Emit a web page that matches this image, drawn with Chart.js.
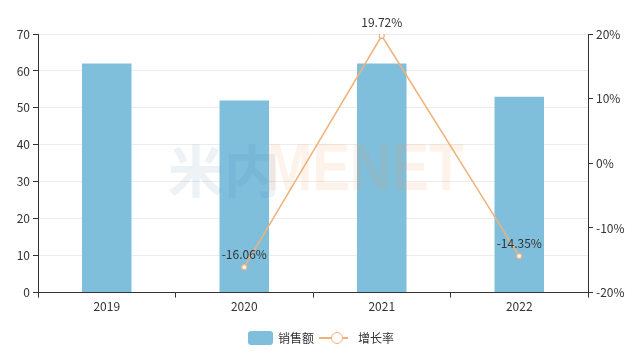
<!DOCTYPE html>
<html><head><meta charset="utf-8">
<script src="https://cdn.jsdelivr.net/npm/chart.js@4.4.0/dist/chart.umd.min.js"></script>
<style>
html,body{margin:0;padding:0;background:#fff;}
#wrap{position:relative;width:643px;height:359px;}
#legend{position:absolute;left:0;top:330px;width:643px;height:18px;font-family:"Noto Sans CJK SC","Noto Sans",sans-serif;font-size:12px;color:#333;}
.lg{position:absolute;top:0;line-height:16px;white-space:nowrap;}
</style></head>
<body>
<div id="wrap">
<canvas id="c" width="643" height="359"></canvas>
<div id="legend">
  <div class="lg" style="left:248px;top:1px;width:25px;height:14px;background:#7fbfdc;border-radius:3px;"></div>
  <div class="lg" style="left:278px;">销售额</div>
  <div class="lg" style="left:319px;top:7px;width:29px;height:1.5px;background:#f0b27a;"></div>
  <div class="lg" style="left:331px;top:2px;width:12px;height:12px;border:1.5px solid #f0b27a;border-radius:50%;background:#fff;box-sizing:border-box;"></div>
  <div class="lg" style="left:358px;">增长率</div>
</div>
</div>
<script>
const categories = ['2019','2020','2021','2022'];
const sales = [62, 52, 62, 53];
const growth = [null, -16.06, 19.72, -14.35];
const growthLabels = ['', '-16.06%', '19.72%', '-14.35%'];

const FONT = '"Noto Sans CJK SC","Noto Sans",sans-serif';

const labelPlugin = {
  id: 'pointLabels',
  afterDatasetsDraw(chart) {
    const ctx = chart.ctx;
    const meta = chart.getDatasetMeta(1);
    ctx.save();
    ctx.font = '12px ' + FONT;
    ctx.fillStyle = '#333';
    ctx.textAlign = 'center';
    ctx.textBaseline = 'bottom';
    meta.data.forEach((pt, i) => {
      if (growth[i] === null) return;
      ctx.fillText(growthLabels[i], pt.x, pt.y - 7);
    });
    ctx.restore();
  }
};

const watermark = {
  id: 'watermark',
  afterDatasetsDraw(chart) {
    const ctx = chart.ctx;
    ctx.save();
    ctx.font = 'bold 56px ' + FONT;
    ctx.textBaseline = 'alphabetic';
    ctx.textAlign = 'left';
    ctx.fillStyle = 'rgba(60,110,150,0.09)';
    ctx.fillText('米内', 168, 192);
    ctx.translate(265, 190);
    ctx.scale(0.86, 1);
    ctx.font = 'bold 66px "Liberation Sans",Arial,sans-serif';
    ctx.fillStyle = 'rgba(250,150,70,0.11)';
    ctx.fillText('MENET', 0, 0);
    ctx.restore();
  }
};

new Chart(document.getElementById('c'), {
  data: {
    labels: categories,
    datasets: [
      {
        type: 'bar',
        label: '销售额',
        data: sales,
        backgroundColor: '#7fbfdc',
        yAxisID: 'y',
        categoryPercentage: 1,
        barPercentage: 0.36,
        order: 2
      },
      {
        type: 'line',
        label: '增长率',
        data: growth,
        borderColor: '#f0b27a',
        borderWidth: 1.5,
        pointRadius: 2.5,
        pointBackgroundColor: '#fff',
        pointBorderColor: '#f0b27a',
        pointBorderWidth: 1.2,
        yAxisID: 'y1',
        tension: 0,
        order: 1
      }
    ]
  },
  options: {
    responsive: false,
    animation: false,
    layout: { padding: { top: 34, bottom: 43, left: 0, right: 0 } },
    plugins: { legend: { display: false }, tooltip: { enabled: false } },
    scales: {
      x: {
        offset: true,
        grid: { display: true, drawOnChartArea: false, offset: true, color: '#333', tickLength: 5 },
        border: { color: '#333' },
        ticks: { color: '#333', font: { size: 12, family: FONT }, padding: 2 }
      },
      y: {
        position: 'left',
        min: 0, max: 70,
        ticks: { stepSize: 10, color: '#333', font: { size: 12, family: FONT }, padding: 3 },
        grid: { color: '#ececec', tickColor: '#333', tickLength: 5 },
        border: { color: '#333' },
        afterFit(s) { s.width = 38; }
      },
      y1: {
        position: 'right',
        min: -20, max: 20,
        ticks: { stepSize: 10, color: '#333', font: { size: 12, family: FONT }, padding: 3, callback: v => v + '%' },
        grid: { drawOnChartArea: false, color: '#333', tickLength: 5 },
        border: { color: '#333' },
        afterFit(s) { s.width = 55; }
      }
    }
  },
  plugins: [labelPlugin, watermark]
});
</script>
</body></html>
